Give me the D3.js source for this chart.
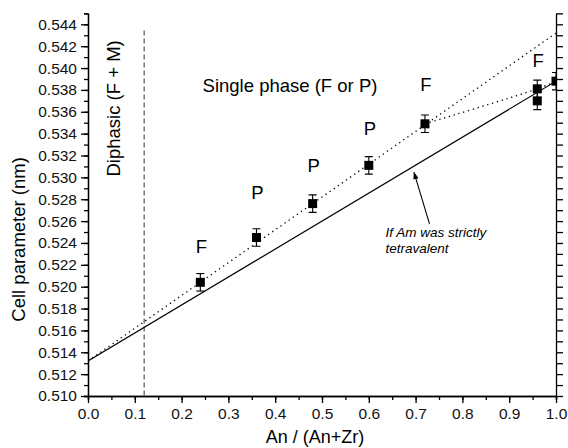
<!DOCTYPE html>
<html>
<head>
<meta charset="utf-8">
<title>Cell parameter</title>
<script src="https://cdn.jsdelivr.net/npm/d3@7"></script>
<style>
  body { margin: 0; background: #fff; }
  svg { font-family: "Liberation Sans", Arial, sans-serif; }
</style>
</head>
<body>
<div id="chart"></div>
<script>
  // measured points
  var ratio = [0.24, 0.36, 0.48, 0.60, 0.72, 0.96, 0.96, 1.0];
  var cell = [0.5204, 0.5245, 0.5276, 0.5311, 0.5349, 0.5381, 0.5370, 0.5388];
  var err = [0.0008, 0.0008, 0.0008, 0.0008, 0.0008, 0.0008, 0.0008, 0.0008];

  // phase labels
  var phaseX = [0.24, 0.36, 0.48, 0.60, 0.72, 0.96];
  var phaseY = [0.5231, 0.5280, 0.5305, 0.5339, 0.5379, 0.5401];
  var phase = ["F", "P", "P", "P", "F", "F"];

  // lines
  var solidX = [0, 1.0], solidY = [0.5132, 0.5388];
  var dotX = [0, 1.0], dotY = [0.5132, 0.5432];
  var curveX = [0.72, 0.96, 1.0], curveY = [0.5349, 0.5381, 0.5388];
  var diphasicX = 0.12;

  var xTicks = [0, 0.1, 0.2, 0.3, 0.4, 0.5, 0.6, 0.7, 0.8, 0.9, 1.0];
  var yTicks = d3.range(0.510, 0.5445, 0.002);

  var W = 568, H = 448;
  var margin = {left: 88, right: 12, top: 13.4, bottom: 52};
  var wid = W - margin.left - margin.right;
  var high = H - margin.top - margin.bottom;

  var svg = d3.select("#chart").append("svg")
    .attr("width", W).attr("height", H)
    .append("g")
    .attr("transform", translate(margin.left, margin.top));

  var x = d3.scaleLinear().domain([0, 1]).range([0, wid]);
  var y = d3.scaleLinear().domain([0.510, 0.545]).range([high, 0]);

  svg.append("clipPath").attr("id", "clip")
    .append("rect").attr("width", wid).attr("height", high);

  // axes
  function styleAxis(g) {
    g.selectAll("path, line").attr("stroke", "#000").attr("stroke-width", 1.3);
    g.selectAll("text").attr("font-size", "15.5px").attr("fill", "#111")
      .attr("font-family", "Liberation Sans, Arial, sans-serif");
  }

  svg.append("g")
    .attr("transform", translate(0, high))
    .call(d3.axisBottom(x).tickValues(d3.range(0, 1.001, 0.05)).tickSize(4).tickFormat(""))
    .call(styleAxis);
  svg.append("g")
    .attr("transform", translate(0, high))
    .call(d3.axisBottom(x).tickValues(xTicks).tickSize(7).tickSizeOuter(0).tickPadding(5)
      .tickFormat(d3.format(".1f")))
    .call(styleAxis);

  svg.append("g")
    .call(d3.axisLeft(y).tickValues(d3.range(0.510, 0.5455, 0.001)).tickSize(4).tickFormat(""))
    .call(styleAxis);
  svg.append("g")
    .call(d3.axisLeft(y).tickValues(yTicks).tickSize(7).tickSizeOuter(0).tickPadding(4)
      .tickFormat(d3.format(".3f")))
    .call(styleAxis);

  svg.append("g")
    .attr("transform", translate(wid, 0))
    .call(d3.axisRight(y).tickValues(d3.range(0.510, 0.5455, 0.001)).tickSize(7)
      .tickSizeOuter(0).tickFormat(""))
    .call(styleAxis);

  // axis titles
  svg.append("text")
    .text("An / (An+Zr)")
    .attr("text-anchor", "middle")
    .attr("font-size", "18px")
    .attr("transform", translate(wid / 2 - 7, high + 47));

  svg.append("text")
    .text("Cell parameter (nm)")
    .attr("text-anchor", "middle")
    .attr("font-size", "18.5px")
    .attr("transform", translate(-63, 226) + " rotate(-90)");

  // diphasic boundary
  svg.append("line")
    .attr("x1", x(diphasicX)).attr("x2", x(diphasicX))
    .attr("y1", 17).attr("y2", high)
    .attr("stroke", "#555").attr("stroke-width", 1.2)
    .attr("stroke-dasharray", "5,3");

  svg.append("text")
    .text("Diphasic (F + M)")
    .attr("text-anchor", "middle")
    .attr("font-size", "18.5px")
    .attr("transform", translate(31.5, 95) + " rotate(-90)");

  svg.append("text")
    .text("Single phase (F or P)")
    .attr("text-anchor", "middle")
    .attr("font-size", "18.5px")
    .attr("transform", translate(202, 78.5));

  var plot = svg.append("g").attr("clip-path", "url(#clip)");

  var line = d3.line().x(function(d) { return x(d[0]); }).y(function(d) { return y(d[1]); });

  plot.append("path")
    .attr("d", line(d3.zip(solidX, solidY)))
    .attr("fill", "none").attr("stroke", "#000").attr("stroke-width", 1.2);

  plot.append("path")
    .attr("d", line(d3.zip(dotX, dotY)))
    .attr("fill", "none").attr("stroke", "#000").attr("stroke-width", 1.3)
    .attr("stroke-dasharray", "1.3,3.7");

  plot.append("path")
    .attr("d", line.curve(d3.curveCatmullRom)(d3.zip(curveX, curveY)))
    .attr("fill", "none").attr("stroke", "#000").attr("stroke-width", 1.3)
    .attr("stroke-dasharray", "1.3,3.7");

  // error bars and markers
  var pts = d3.zip(ratio, cell, err);
  var bars = plot.selectAll(".err").data(pts).enter().append("g").attr("class", "err");
  bars.append("line")
    .attr("x1", function(d) { return x(d[0]); }).attr("x2", function(d) { return x(d[0]); })
    .attr("y1", function(d) { return y(d[1] - d[2]); }).attr("y2", function(d) { return y(d[1] + d[2]); })
    .attr("stroke", "#000").attr("stroke-width", 1.1);
  [-1, 1].forEach(function(s) {
    bars.append("line")
      .attr("x1", function(d) { return x(d[0]) - 4; }).attr("x2", function(d) { return x(d[0]) + 4; })
      .attr("y1", function(d) { return y(d[1] + s * d[2]); }).attr("y2", function(d) { return y(d[1] + s * d[2]); })
      .attr("stroke", "#000").attr("stroke-width", 1.1);
  });
  plot.selectAll(".pt").data(pts).enter().append("rect")
    .attr("class", "pt")
    .attr("x", function(d) { return x(d[0]) - 4.5; })
    .attr("y", function(d) { return y(d[1]) - 4.5; })
    .attr("width", 9).attr("height", 9)
    .attr("fill", "#000");

  // phase letters
  svg.selectAll(".ph").data(d3.zip(phaseX, phaseY, phase)).enter().append("text")
    .attr("class", "ph")
    .attr("text-anchor", "middle")
    .attr("font-size", "18.5px")
    .attr("x", function(d) { return x(d[0]) + 1; })
    .attr("y", function(d) { return y(d[1]); })
    .text(function(d) { return d[2]; });

  // annotation with arrow
  svg.append("defs").append("marker")
    .attr("id", "arrow").attr("viewBox", "0 0 10 10")
    .attr("refX", 9).attr("refY", 5)
    .attr("markerWidth", 7).attr("markerHeight", 7)
    .attr("orient", "auto")
    .append("path").attr("d", "M0,1.5L10,5L0,8.5z").attr("fill", "#000");

  svg.append("line")
    .attr("x1", 341.5).attr("y1", 210.5)
    .attr("x2", 326).attr("y2", 159)
    .attr("stroke", "#000").attr("stroke-width", 1.1)
    .attr("marker-end", "url(#arrow)");

  var note = svg.append("text")
    .attr("font-size", "13.5px")
    .attr("font-style", "italic")
    .attr("transform", translate(297.5, 223.5));
  note.append("tspan").attr("x", 0).attr("y", 0).text("If Am was strictly");
  note.append("tspan").attr("x", 0).attr("y", 16).text("tetravalent");

  function translate(a, b) {
    return "translate(" + a + "," + b + ")";
  }
</script>
</body>
</html>
